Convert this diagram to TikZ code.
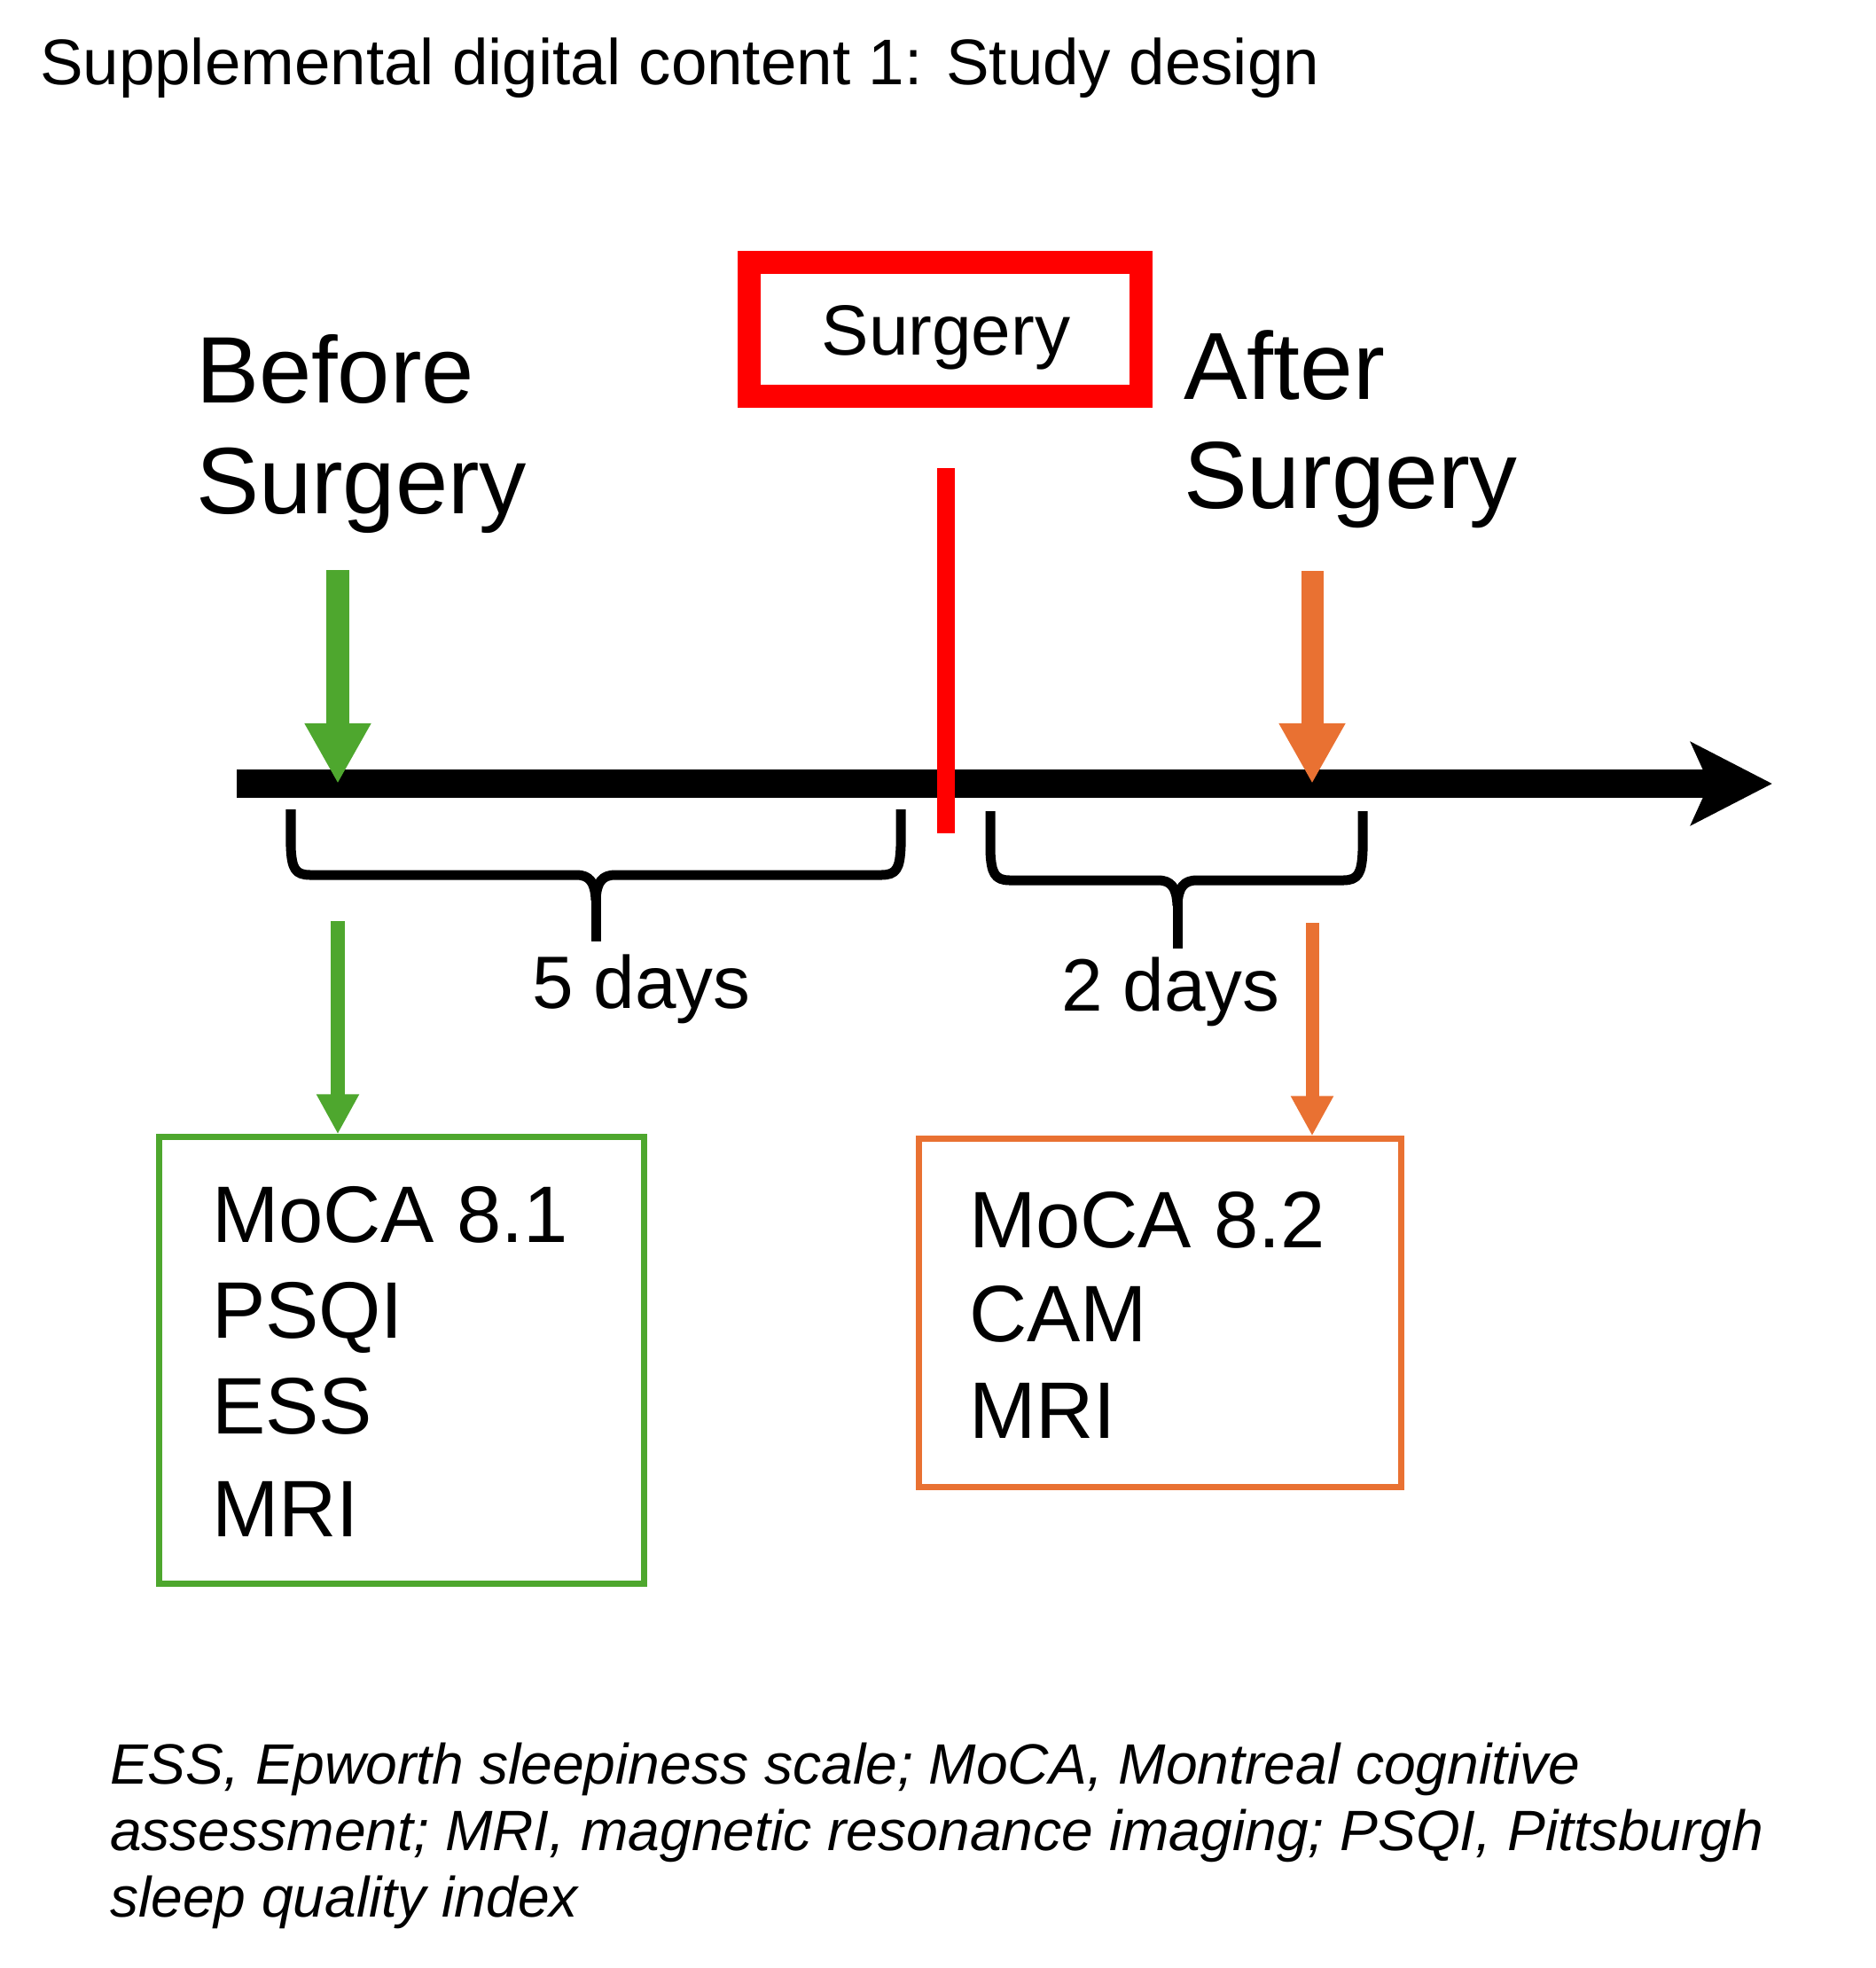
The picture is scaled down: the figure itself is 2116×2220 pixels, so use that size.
\documentclass[tikz,border=0pt]{standalone}
\usepackage{fontspec}
\setmainfont{Liberation Sans}
\usetikzlibrary{arrows.meta}
\definecolor{grn}{HTML}{4EA72E}
\definecolor{org}{HTML}{E97132}
\definecolor{redc}{HTML}{FF0000}
\begin{document}
\begin{tikzpicture}[x=0.01cm,y=-0.01cm,
  txt/.style={anchor=base west, inner sep=0pt, outer sep=0pt},
  titlefont/.style={font=\fontsize{20.7pt}{25pt}\selectfont},
  phasefont/.style={font=\fontsize{30.3pt}{35pt}\selectfont},
  afterfont/.style={font=\fontsize{30.6pt}{35pt}\selectfont},
  midfont/.style={font=\fontsize{22.8pt}{27pt}\selectfont},
  daysfont/.style={font=\fontsize{23.8pt}{28pt}\selectfont},
  boxfont/.style={font=\fontsize{25.7pt}{30pt}\selectfont},
  notefont/.style={font=\fontsize{18.25pt}{21pt}\selectfont\itshape},
  timeline/.style={line width=0.32cm, -{Stealth[length=0.91cm, width=0.92cm, inset=0.2cm]}},
  uparrow/.style={line width=0.25cm, -{Triangle[length=0.68cm, width=0.70cm]}},
  lowarrow/.style={line width=0.15cm, -{Triangle[length=0.45cm, width=0.45cm]}},
  bracepath/.style={line width=0.11cm, line join=round, line cap=butt},
  measbox/.style={draw, line width=0.07cm, inner sep=0pt, fill=none},
]
\useasboundingbox (0,0) rectangle (2116,2220);

% title
\node[txt, titlefont] (title) at (45,95) {Supplemental digital content 1: Study design};

% phase labels
\node[txt, phasefont] (before1) at (221,454) {Before};
\node[txt, phasefont] (before2) at (221,579) {Surgery};
\node[txt, afterfont] (after1) at (1335,450) {After};
\node[txt, afterfont] (after2) at (1335,573) {Surgery};

% surgery box
\node[draw=redc, line width=0.26cm, minimum width=4.42cm, minimum height=1.51cm, inner sep=0pt] (surgbox) at (1066,371.5) {};
\node[txt, midfont, anchor=base] (surgtxt) at (1067,400) {Surgery};

% timeline
\coordinate (tl0) at (267,884);
\coordinate (tl1) at (1999,884);
\draw[timeline] (tl0) -- (tl1);

% red surgery marker
\coordinate (rb0) at (1067,528);
\coordinate (rb1) at (1067,940);
\draw[redc, line width=0.2cm] (rb0) -- (rb1);

% braces
\draw[bracepath] (328,913) -- (328,955) .. controls (329,980) and (333,987) .. (350,987)
  -- (650,987) .. controls (665,987) and (671,995) .. (672,1015)
  .. controls (673,995) and (679,987) .. (694,987)
  -- (994,987) .. controls (1011,987) and (1015,980) .. (1016,955) -- (1016,913);
\draw[bracepath] (672,1005) -- (672,1062);

\draw[bracepath] (1117,915) -- (1117,960) .. controls (1118,985) and (1122,993) .. (1139,993)
  -- (1306,993) .. controls (1321,993) and (1327,1001) .. (1328,1021)
  .. controls (1329,1001) and (1335,993) .. (1350,993)
  -- (1515,993) .. controls (1532,993) and (1536,985) .. (1537,960) -- (1537,915);
\draw[bracepath] (1328,1011) -- (1328,1070);

\node[txt, daysfont] (d5) at (600,1137) {5 days};
\node[txt, daysfont] (d2) at (1197,1140) {2 days};

% boxes
\node[measbox, draw=grn, minimum width=5.46cm, minimum height=5.03cm] (gbox) at (453,1534.5) {};
\node[measbox, draw=org, minimum width=5.43cm, minimum height=3.92cm] (obox) at (1308.5,1481) {};

\node[txt, boxfont] (g1) at (239,1401) {MoCA 8.1};
\node[txt, boxfont] (g2) at (239,1509) {PSQI};
\node[txt, boxfont] (g3) at (239,1617) {ESS};
\node[txt, boxfont] (g4) at (239,1733) {MRI};

\node[txt, boxfont] (o1) at (1093,1407) {MoCA 8.2};
\node[txt, boxfont] (o2) at (1093,1513) {CAM};
\node[txt, boxfont] (o3) at (1093,1622) {MRI};

% arrows
\coordinate (ga1) at (381,643);
\coordinate (ga2) at (381,1039);
\coordinate (oa1) at (1480,644);
\coordinate (oa2) at (1480,1041);
\draw[uparrow, grn] (ga1) -- (ga1 |- tl0);
\draw[uparrow, org] (oa1) -- (oa1 |- tl0);
\draw[lowarrow, grn] (ga2) -- (ga2 |- gbox.north);
\draw[lowarrow, org] (oa2) -- (oa2 |- obox.north);

% footnote
\node[txt, notefont] (n1) at (124,2012) {ESS, Epworth sleepiness scale; MoCA, Montreal cognitive};
\node[txt, notefont] (n2) at (124,2087) {assessment; MRI, magnetic resonance imaging; PSQI, Pittsburgh};
\node[txt, notefont] (n3) at (124,2162) {sleep quality index};
\end{tikzpicture}
\end{document}
